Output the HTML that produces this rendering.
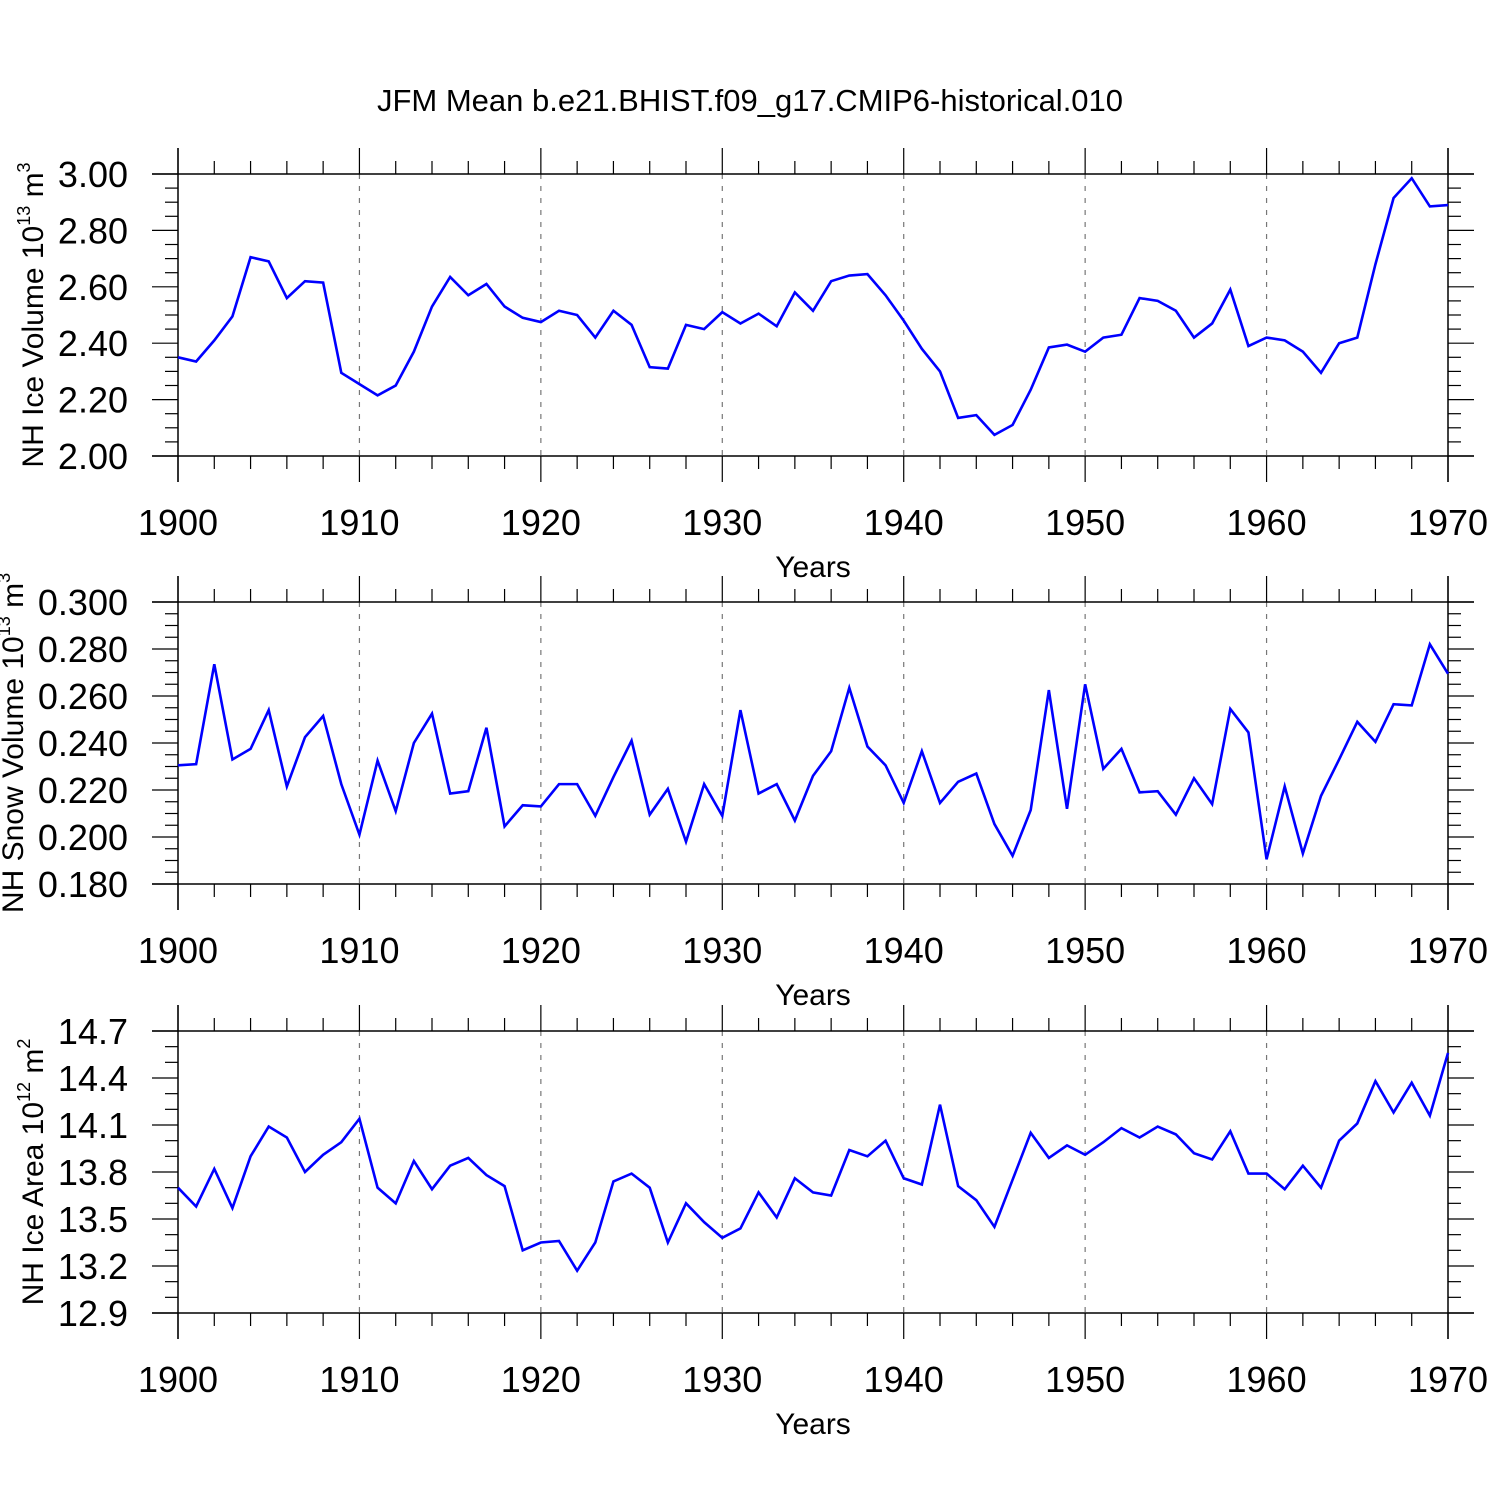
<!DOCTYPE html>
<html><head><meta charset="utf-8"><style>
html,body{margin:0;padding:0;background:#fff;}
svg text{font-family:"Liberation Sans",sans-serif;fill:#000;}
</style></head><body>
<svg id="chart" width="1500" height="1500" viewBox="0 0 1500 1500" xmlns="http://www.w3.org/2000/svg">
<text x="750" y="111" font-size="31" text-anchor="middle">JFM Mean b.e21.BHIST.f09_g17.CMIP6-historical.010</text>
</svg>
<script>
const years = [];
for (let y = 1900; y <= 1970; y++) years.push(y);
const xTickLabels = ["1900","1910","1920","1930","1940","1950","1960","1970"];
const iceVolume = [2.35,2.335,2.41,2.495,2.705,2.69,2.56,2.62,2.615,2.295,2.255,2.215,2.25,2.37,2.53,2.635,2.57,2.61,2.53,2.49,2.475,2.515,2.5,2.42,2.515,2.465,2.315,2.31,2.465,2.45,2.51,2.47,2.505,2.46,2.58,2.515,2.62,2.64,2.645,2.57,2.48,2.38,2.3,2.135,2.145,2.075,2.11,2.235,2.385,2.395,2.37,2.42,2.43,2.56,2.55,2.515,2.42,2.47,2.59,2.39,2.42,2.41,2.37,2.295,2.4,2.42,2.68,2.915,2.985,2.885,2.89];
const snowVolume = [0.2305,0.231,0.2735,0.233,0.2375,0.254,0.2215,0.2425,0.2515,0.2225,0.201,0.2325,0.211,0.240,0.2525,0.2185,0.2195,0.2465,0.2045,0.2135,0.213,0.2225,0.2225,0.209,0.2255,0.241,0.2095,0.2205,0.198,0.2225,0.209,0.254,0.2185,0.2225,0.207,0.226,0.2365,0.2635,0.2385,0.2305,0.2145,0.2365,0.2145,0.2235,0.227,0.2055,0.192,0.2115,0.2625,0.212,0.265,0.229,0.2375,0.219,0.2195,0.2095,0.225,0.214,0.2545,0.2445,0.1905,0.2215,0.193,0.2175,0.233,0.249,0.2405,0.2565,0.256,0.282,0.2695];
const iceArea = [13.70,13.58,13.82,13.57,13.90,14.09,14.02,13.80,13.91,13.99,14.14,13.70,13.60,13.87,13.69,13.84,13.89,13.78,13.71,13.30,13.35,13.36,13.17,13.35,13.74,13.79,13.70,13.35,13.60,13.48,13.38,13.44,13.67,13.51,13.76,13.67,13.65,13.94,13.90,14.00,13.76,13.72,14.23,13.71,13.62,13.45,13.75,14.05,13.89,13.97,13.91,13.99,14.08,14.02,14.09,14.04,13.92,13.88,14.06,13.79,13.79,13.69,13.84,13.70,14.00,14.11,14.38,14.18,14.37,14.16,14.56];
const iceVolTicks = ["2.00","2.20","2.40","2.60","2.80","3.00"];
const snowTicks = ["0.180","0.200","0.220","0.240","0.260","0.280","0.300"];
const areaTicks = ["12.9","13.2","13.5","13.8","14.1","14.4","14.7"];

const svg = document.getElementById('chart');
const NS = 'http://www.w3.org/2000/svg';
function mk(tag, attrs, parent){const e=document.createElementNS(NS,tag);for(const k in attrs)e.setAttribute(k,attrs[k]);(parent||svg).appendChild(e);return e;}

const X0=178, X1=1448;
function xs(yr){return X0+(yr-1900)/70*(X1-X0);}

const panels = [
 {name:'ice-volume', top:174, bot:456, min:2.0, max:3.0, ticks:iceVolTicks, minorN:4, data:iceVolume, title:'NH Ice Volume 10', sup:'13', unit:' m', usup:'3', tx:128, titleX:43},
 {name:'snow-volume', top:602, bot:884, min:0.18, max:0.30, ticks:snowTicks, minorN:4, data:snowVolume, title:'NH Snow Volume 10', sup:'13', unit:' m', usup:'3', tx:128, titleX:23},
 {name:'ice-area', top:1031, bot:1313, min:12.9, max:14.7, ticks:areaTicks, minorN:3, data:iceArea, title:'NH Ice Area 10', sup:'12', unit:' m', usup:'2', tx:128, titleX:43}
];

panels.forEach(p=>{
  const g = mk('g',{});
  
  
  const ys = v => p.bot-(v-p.min)/(p.max-p.min)*(p.bot-p.top);
  for (let i=1;i<xTickLabels.length-1;i++){
    const x=xs(+xTickLabels[i]);
    const l=mk('line',{x1:x,x2:x,y1:p.top,y2:p.bot,stroke:'#777','stroke-width':1.2,'stroke-dasharray':'5,7'},g);
    
    
  }
  const st={stroke:'#000','stroke-width':1.5};
  mk('line',Object.assign({x1:152,x2:1474,y1:p.top,y2:p.top},st),g);
  mk('line',Object.assign({x1:152,x2:1474,y1:p.bot,y2:p.bot},st),g);
  mk('line',Object.assign({x1:X0,x2:X0,y1:p.top-26,y2:p.bot+26},st),g);
  mk('line',Object.assign({x1:X1,x2:X1,y1:p.top-26,y2:p.bot+26},st),g);
  for (let yr=1900; yr<=1970; yr+=2){
    const x=xs(yr); const major = yr%10===0; const len = major?26:13;
    mk('line',{x1:x,x2:x,y1:p.top-len,y2:p.top,stroke:'#000','stroke-width':1.2},g);
    mk('line',{x1:x,x2:x,y1:p.bot,y2:p.bot+len,stroke:'#000','stroke-width':1.2},g);
  }
  xTickLabels.forEach(t=>{
    const tx=mk('text',{x:xs(+t),y:p.bot+79,'font-size':36,'text-anchor':'middle'},g);
    tx.textContent=t;
    
    
  });
  const xt=mk('text',{x:813,y:p.bot+121,'font-size':30,'text-anchor':'middle'},g);
  xt.textContent='Years';
  
  
  const step=(p.max-p.min)/(p.ticks.length-1);
  const minorStep=step/p.minorN;
  for (let i=0;i<(p.ticks.length-1)*p.minorN+1;i++){
    const v=p.min+i*minorStep; const y=ys(v); const major=i%p.minorN===0; const len=major?26:13;
    mk('line',{x1:X0-len,x2:X0,y1:y,y2:y,stroke:'#000','stroke-width':1.2},g);
    mk('line',{x1:X1,x2:X1+len,y1:y,y2:y,stroke:'#000','stroke-width':1.2},g);
  }
  p.ticks.forEach(t=>{
    const ty=mk('text',{x:p.tx,y:ys(+t)+13,'font-size':36,'text-anchor':'end'},g);
    ty.textContent=t;
    
    
  });
  const cy=(p.top+p.bot)/2;
  const yt=mk('text',{x:0,y:0,'font-size':30,'text-anchor':'middle',transform:`translate(${p.titleX},${cy}) rotate(-90)`},g);
  
  
  const a=mk('tspan',{},yt); a.textContent=p.title;
  const b=mk('tspan',{dy:-13,'font-size':18},yt); b.textContent=p.sup;
  const c=mk('tspan',{dy:13},yt); c.textContent=p.unit;
  const d=mk('tspan',{dy:-13,'font-size':18},yt); d.textContent=p.usup;
  const pts=p.data.map((v,i)=>xs(years[i]).toFixed(2)+','+ys(v).toFixed(2)).join(' ');
  const line=mk('polyline',{points:pts,fill:'none',stroke:'#0000ff','stroke-width':2.6,'stroke-linejoin':'miter'},g);
  
  
});
</script>
</body></html>
